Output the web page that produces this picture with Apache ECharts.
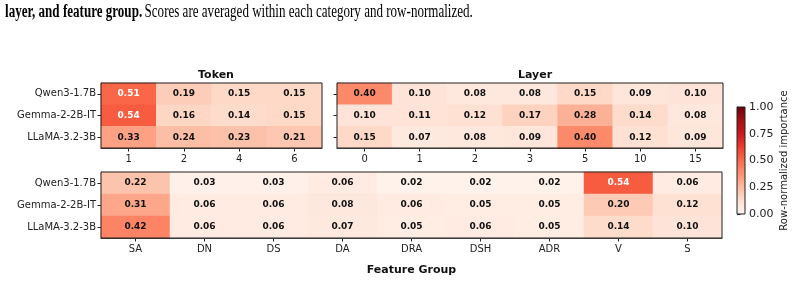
<!DOCTYPE html>
<html>
<head>
<meta charset="utf-8">
<script src="https://cdn.jsdelivr.net/npm/echarts@6/dist/echarts.min.js"></script>
<style>
  html, body { margin: 0; padding: 0; background: #fff; }
  #main { width: 796px; height: 283px; }
</style>
</head>
<body>
<div id="main"></div>
<script>
// rows (models)
const models = ['Qwen3-1.7B', 'Gemma-2-2B-IT', 'LLaMA-3.2-3B'];

// token panel
const tokenCats = ['1', '2', '4', '6'];
const tokenQwen = [0.51, 0.19, 0.15, 0.15];
const tokenGemma = [0.54, 0.16, 0.14, 0.15];
const tokenLlama = [0.33, 0.24, 0.23, 0.21];

// layer panel
const layerCats = ['0', '1', '2', '3', '5', '10', '15'];
const layerQwen = [0.40, 0.10, 0.08, 0.08, 0.15, 0.09, 0.10];
const layerGemma = [0.10, 0.11, 0.12, 0.17, 0.28, 0.14, 0.08];
const layerLlama = [0.15, 0.07, 0.08, 0.09, 0.40, 0.12, 0.09];

// feature group panel
const featCats = ['SA', 'DN', 'DS', 'DA', 'DRA', 'DSH', 'ADR', 'V', 'S'];
const featQwen = [0.22, 0.03, 0.03, 0.06, 0.02, 0.02, 0.02, 0.54, 0.06];
const featGemma = [0.31, 0.06, 0.06, 0.08, 0.06, 0.05, 0.05, 0.20, 0.12];
const featLlama = [0.42, 0.06, 0.06, 0.07, 0.05, 0.06, 0.05, 0.14, 0.10];

// colorbar ticks
const cbarTicks = [0, 0.25, 0.5, 0.75, 1];

// matplotlib "Reds"
const reds = ['#fff5f0', '#fee0d2', '#fcbba1', '#fc9272', '#fb6a4a', '#ef3b2c', '#cb181d', '#a50f15', '#67000d'];

const dark = '#222';
const sans = 'DejaVu Sans';

function toCells(rows) {
  let out = [];
  rows.forEach((row, i) => {
    row.forEach((v, j) => out.push([j, i, v]));
  });
  return out;
}

function heat(idx, rows) {
  return {
    type: 'heatmap',
    xAxisIndex: idx,
    yAxisIndex: idx,
    data: toCells(rows),
    label: {
      show: true,
      fontFamily: sans,
      fontSize: 9,
      fontWeight: 'bold',
      formatter: p => p.value[2] > 0.45 ? '{w|' + p.value[2].toFixed(2) + '}' : '{b|' + p.value[2].toFixed(2) + '}',
      rich: {
        w: { color: '#fff', fontFamily: sans, fontSize: 9, fontWeight: 'bold' },
        b: { color: '#111', fontFamily: sans, fontSize: 9, fontWeight: 'bold' }
      }
    },
    emphasis: { disabled: true }
  };
}

function xCat(idx, cats, name) {
  return {
    type: 'category',
    gridIndex: idx,
    data: cats,
    position: 'bottom',
    name: name || '',
    nameLocation: 'middle',
    nameGap: 27,
    nameTextStyle: { fontFamily: sans, fontSize: 11, fontWeight: 'bold', color: '#111' },
    axisLine: { show: true, lineStyle: { color: dark, width: 1 } },
    axisTick: { show: true, alignWithLabel: true, length: 3.5, lineStyle: { color: dark } },
    axisLabel: { fontFamily: sans, fontSize: 10, color: dark, margin: 6 },
    splitArea: { show: false }
  };
}

function yCat(idx, showLabels) {
  return {
    type: 'category',
    gridIndex: idx,
    data: models,
    inverse: true,
    axisLine: { show: true, lineStyle: { color: dark, width: 1 } },
    axisTick: { show: true, alignWithLabel: true, length: 3.5, lineStyle: { color: dark } },
    axisLabel: { show: showLabels, fontFamily: sans, fontSize: 10, color: dark, margin: 5 },
    splitArea: { show: false }
  };
}

const frame = { show: true, borderColor: dark, borderWidth: 1, z: 5 };

let chart = echarts.init(document.getElementById('main'), null, { renderer: 'canvas' });

let option = {
  animation: false,
  backgroundColor: '#fff',
  title: [
    { text: 'Token', left: 211, top: 65, textAlign: 'center',
      textStyle: { fontFamily: sans, fontSize: 11, fontWeight: 'bold', color: '#111' } },
    { text: 'Layer', left: 530, top: 65, textAlign: 'center',
      textStyle: { fontFamily: sans, fontSize: 11, fontWeight: 'bold', color: '#111' } }
  ],
  graphic: [
    {
      type: 'text',
      left: 5,
      top: 3,
      scaleX: 0.725,
      style: {
        text: '{b|layer, and feature group.} {n|Scores are averaged within each category and row-normalized.}',
        rich: {
          b: { fontFamily: 'Liberation Serif', fontSize: 18, fontWeight: 'bold', fill: '#000' },
          n: { fontFamily: 'Liberation Serif', fontSize: 18, fill: '#000' }
        }
      }
    }
  ],
  grid: [
    Object.assign({ left: 101, top: 83, width: 221, height: 65 }, frame),
    Object.assign({ left: 337, top: 83, width: 386, height: 65 }, frame),
    Object.assign({ left: 101, top: 172, width: 621, height: 66 }, frame),
    Object.assign({ left: 737, top: 107, width: 8, height: 107 }, frame, {
      backgroundColor: new echarts.graphic.LinearGradient(0, 1, 0, 0,
        reds.map((c, i) => ({ offset: i / (reds.length - 1), color: c })))
    })
  ],
  xAxis: [
    xCat(0, tokenCats),
    xCat(1, layerCats),
    xCat(2, featCats, 'Feature Group'),
    { type: 'value', gridIndex: 3, show: false, min: 0, max: 1 }
  ],
  yAxis: [
    yCat(0, true),
    yCat(1, false),
    yCat(2, true),
    {
      type: 'value',
      gridIndex: 3,
      position: 'right',
      min: cbarTicks[0],
      max: cbarTicks[cbarTicks.length - 1],
      interval: 0.25,
      name: 'Row-normalized importance',
      nameLocation: 'middle',
      nameRotate: 90,
      nameGap: 34,
      nameTextStyle: { fontFamily: sans, fontSize: 10, color: dark },
      axisLine: { show: true, lineStyle: { color: dark } },
      axisTick: { show: true, length: 3.5, lineStyle: { color: dark } },
      axisLabel: { fontFamily: sans, fontSize: 11, color: dark, margin: 4, formatter: v => v.toFixed(2) },
      splitLine: { show: false }
    }
  ],
  visualMap: {
    show: false,
    type: 'continuous',
    min: 0,
    max: 1,
    seriesIndex: [0, 1, 2],
    inRange: { color: reds }
  },
  series: [
    heat(0, [tokenQwen, tokenGemma, tokenLlama]),
    heat(1, [layerQwen, layerGemma, layerLlama]),
    heat(2, [featQwen, featGemma, featLlama])
  ]
};

chart.setOption(option);
</script>
</body>
</html>
